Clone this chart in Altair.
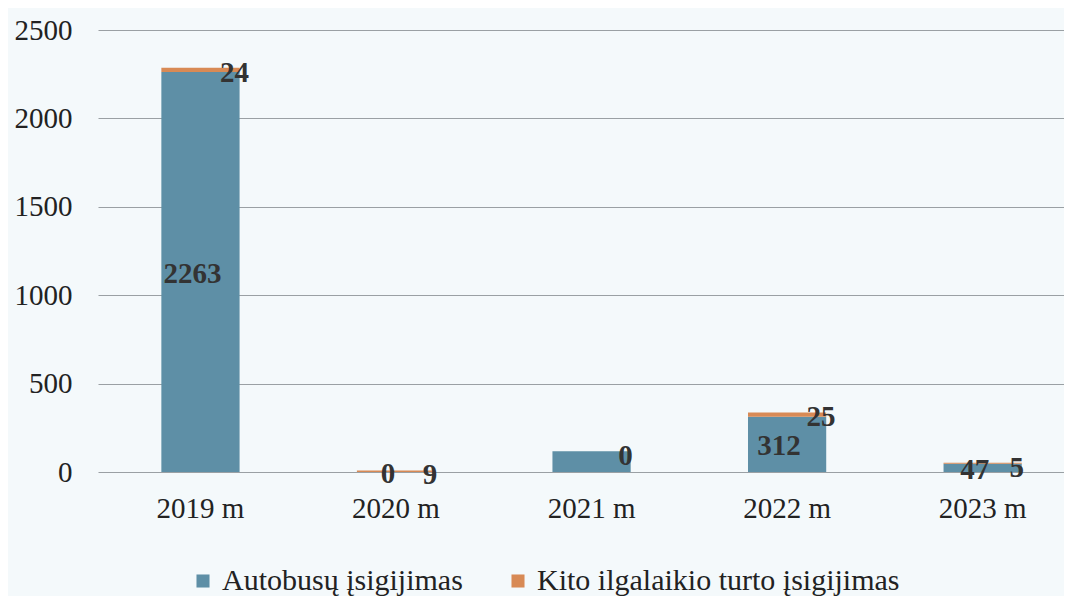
import altair as alt
import pandas as pd

years = ["2019 m", "2020 m", "2021 m", "2022 m", "2023 m"]
bus_values = [2263, 0, 118, 312, 47]
other_values = [24, 9, 0, 25, 5]
bus_labels = ["2263", "0", "", "312", "47"]
other_labels = ["24", "9", "0", "25", "5"]
series = ["Autobusų įsigijimas", "Kito ilgalaikio turto įsigijimas"]
colors = ["#5e8fa6", "#d88a55"]

rows = []
for i, y in enumerate(years):
    rows.append({"year": y, "series": series[0], "value": bus_values[i], "order": 0})
    rows.append({"year": y, "series": series[1], "value": other_values[i], "order": 1})
df = pd.DataFrame(rows)

lab = pd.DataFrame({
    "year": years,
    "bus": bus_values,
    "other": other_values,
    "bus_label": bus_labels,
    "other_label": other_labels,
})
lab["bus_mid"] = lab["bus"] / 2
lab["top"] = lab["bus"] + lab["other"]

FONT = "Liberation Serif"

xscale = alt.Scale(domain=years, paddingInner=0.6, paddingOuter=0.27, align=0.6)
yscale = alt.Scale(domain=[0, 2500], nice=False)

bars = alt.Chart(df).mark_bar().encode(
    x=alt.X("year:N", scale=xscale, sort=years, axis=alt.Axis(
        title=None, labelAngle=0, labelFont=FONT, labelFontSize=29, labelColor="#222",
        domain=False, ticks=False, labelPadding=22)),
    y=alt.Y("sum(value):Q", scale=yscale, stack="zero", axis=alt.Axis(
        title=None, values=[0, 500, 1000, 1500, 2000, 2500], format="d", labelFont=FONT,
        labelFontSize=29, labelColor="#222", domain=False, ticks=False,
        labelPadding=26, gridColor="#9aa0a4", gridWidth=1.2)),
    color=alt.Color("series:N", scale=alt.Scale(domain=series, range=colors),
                    legend=alt.Legend(title=None, orient="none", direction="horizontal",
                                      legendX=90, legendY=536, symbolType="square",
                                      symbolSize=170,
                                      labelFont=FONT, labelFontSize=30, labelColor="#222",
                                      labelLimit=600, columnPadding=40)),
    order=alt.Order("order:Q"),
)

bus_text = alt.Chart(lab).mark_text(
    font=FONT, fontSize=29, fontWeight="bold", color="#333", dx=-8, dy=2
).encode(
    x=alt.X("year:N", scale=xscale, sort=years),
    y=alt.Y("bus_mid:Q", scale=yscale),
    text="bus_label:N",
)

other_text = alt.Chart(lab).mark_text(
    font=FONT, fontSize=29, fontWeight="bold", color="#333", dx=34, dy=5
).encode(
    x=alt.X("year:N", scale=xscale, sort=years),
    y=alt.Y("top:Q", scale=yscale),
    text="other_label:N",
)

chart = alt.layer(bars, bus_text, other_text).properties(
    width=966, height=442,
    background="#f4f9fb",
    padding={"left": 6, "top": 8, "right": 0, "bottom": 0},
).configure_view(stroke=None)

chart.save("out.html", embed_options={"renderer": "svg", "actions": False})
